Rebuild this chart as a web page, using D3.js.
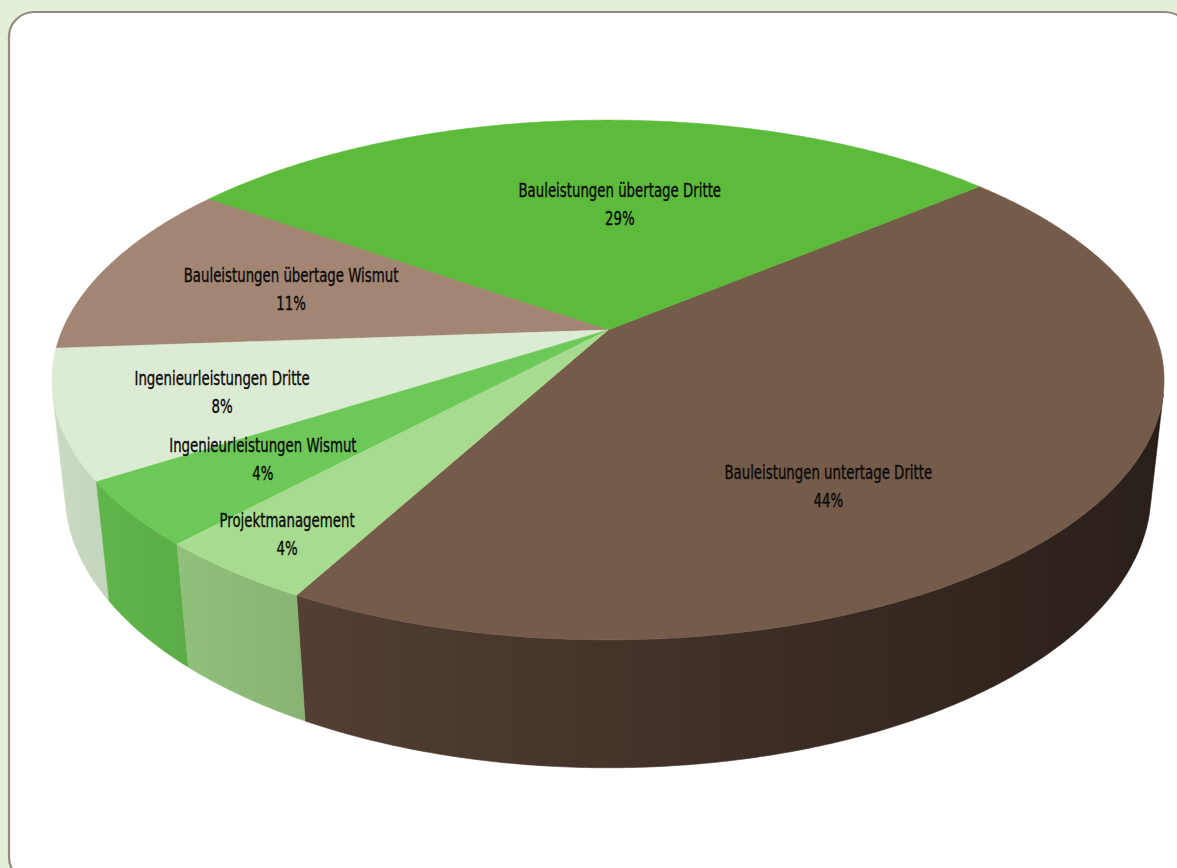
<!DOCTYPE html>
<html>
<head>
<meta charset="utf-8">
<script src="https://cdn.jsdelivr.net/npm/d3@7/dist/d3.min.js"></script>
<style>
  body { margin: 0; background: #e3efd9; }
  svg { display: block; }
  .slice-label text {
    font-family: "DejaVu Sans Condensed", "Liberation Sans Narrow", "Roboto", sans-serif;
    font-size: 19.5px;
    fill: #0a0a0a;
    stroke: #0a0a0a;
    stroke-width: 0.35px;
  }
</style>
</head>
<body>
<svg id="chart"></svg>
<script>
// categories and their shares (percent)
const categories = [
  "Bauleistungen untertage Dritte",
  "Bauleistungen übertage Dritte",
  "Bauleistungen übertage Wismut",
  "Ingenieurleistungen Dritte",
  "Ingenieurleistungen Wismut",
  "Projektmanagement"
];
const shares = [44, 29, 11, 8, 4, 4];
const shareLabels = ["44%", "29%", "11%", "8%", "4%", "4%"];

// colours of top face and rim
const topColors = ["#755b49", "#5cbb3a", "#a28572", "#dcebd4", "#6dc957", "#a7dc90"];
const sideColors = ["#5f483a", "#4c9a30", "#85695a", "#cadac3", "#62b94c", "#9bcd85"];

// where each label sits: fraction along the slice, radius fraction
const labelSpots = [
  { at: 0.39, r: 0.655 },
  { at: 0.455, r: 0.572 },
  { at: 0.472, r: 0.628 },
  { at: 0.497, r: 0.713 },
  { at: 0.39, r: 0.737 },
  { at: 0.449, r: 0.862 }
];

const width = 1177, height = 868;

// perspective view of the disc
const view = {
  cx: 608, cy: 330,
  focal: 2521,
  dist: 4.62,
  tilt: 27.3 * Math.PI / 180,
  thick: 0.234,
  start: 241.7 * Math.PI / 180
};

function project(theta, r, w) {
  const c = Math.cos(view.tilt), s = Math.sin(view.tilt);
  const u = r * Math.cos(theta), v = r * Math.sin(theta);
  const dep = view.dist + v * c - w * s;
  return [
    view.cx + view.focal * u / dep,
    view.cy - view.focal * (v * s + w * c) / dep
  ];
}

function rim(a0, a1, w) {
  const n = Math.max(2, Math.ceil(Math.abs(a1 - a0) / (Math.PI / 360)));
  return d3.range(n + 1).map(i => project(a0 + (a1 - a0) * i / n, 1, w));
}

const svg = d3.select("#chart").attr("width", width).attr("height", height);

// frame
svg.append("rect")
  .attr("x", 9).attr("y", 12)
  .attr("width", 1181).attr("height", 870)
  .attr("rx", 25).attr("ry", 25)
  .attr("fill", "#fff")
  .attr("stroke", "#948a80")
  .attr("stroke-width", 2.2);

const pie = d3.pie().sort(null).value(d => d).startAngle(0).endAngle(2 * Math.PI);
const arcs = pie(shares);
// d3 angles run one way, the disc angle the other; map through a scale
const angle = d3.scaleLinear().domain([0, 2 * Math.PI]).range([view.start, view.start + 2 * Math.PI]);

const line = d3.line();
const defs = svg.append("defs");

// visible part of the rim
const edge = Math.asin(1 / (view.dist * Math.cos(view.tilt)));
const visLo = Math.PI + edge, visHi = 2 * Math.PI - edge;

const leftX = project(Math.PI + edge, 1, 0)[0];
const rightX = project(2 * Math.PI - edge, 1, 0)[0];

sideColors.forEach((col, i) => {
  const g = defs.append("linearGradient")
    .attr("id", "side" + i)
    .attr("gradientUnits", "userSpaceOnUse")
    .attr("x1", leftX).attr("x2", rightX).attr("y1", 0).attr("y2", 0);
  const dark = d3.rgb(col);
  g.append("stop").attr("offset", 0).attr("stop-color", col);
  g.append("stop").attr("offset", 1)
    .attr("stop-color", d3.rgb(dark.r * 0.43, dark.g * 0.43, dark.b * 0.43));
});

const sides = svg.append("g").attr("class", "sides");
arcs.forEach((d, i) => {
  const a0 = angle(d.startAngle), a1 = angle(d.endAngle);
  [0, 2 * Math.PI].forEach(shift => {
    const lo = Math.max(a0, visLo + shift), hi = Math.min(a1, visHi + shift);
    if (hi <= lo) return;
    const pts = rim(lo, hi, 0).concat(rim(hi, lo, -view.thick));
    sides.append("path")
      .attr("d", line(pts) + "Z")
      .attr("fill", "url(#side" + i + ")")
      .attr("stroke", "url(#side" + i + ")")
      .attr("stroke-width", 0.6);
  });
});

const tops = svg.append("g").attr("class", "tops");
arcs.forEach((d, i) => {
  const a0 = angle(d.startAngle), a1 = angle(d.endAngle);
  const pts = [project(0, 0, 0)].concat(rim(a0, a1, 0));
  tops.append("path")
    .attr("d", line(pts) + "Z")
    .attr("fill", topColors[i])
    .attr("stroke", topColors[i])
    .attr("stroke-width", 0.6);
});

// labels, squeezed horizontally to get the narrow look
const labels = svg.append("g").attr("class", "slice-label");
arcs.forEach((d, i) => {
  const spot = labelSpots[i];
  const a = angle(d.startAngle + (d.endAngle - d.startAngle) * spot.at);
  const p = project(a, spot.r, 0);
  const t = labels.append("g")
    .attr("transform", "translate(" + p[0] + "," + p[1] + ") scale(0.76,1)")
    .append("text").attr("text-anchor", "middle");
  t.append("tspan").attr("x", 0).attr("y", -4).text(categories[i]);
  t.append("tspan").attr("x", 0).attr("y", 24).text(shareLabels[i]);
});
</script>
</body>
</html>
